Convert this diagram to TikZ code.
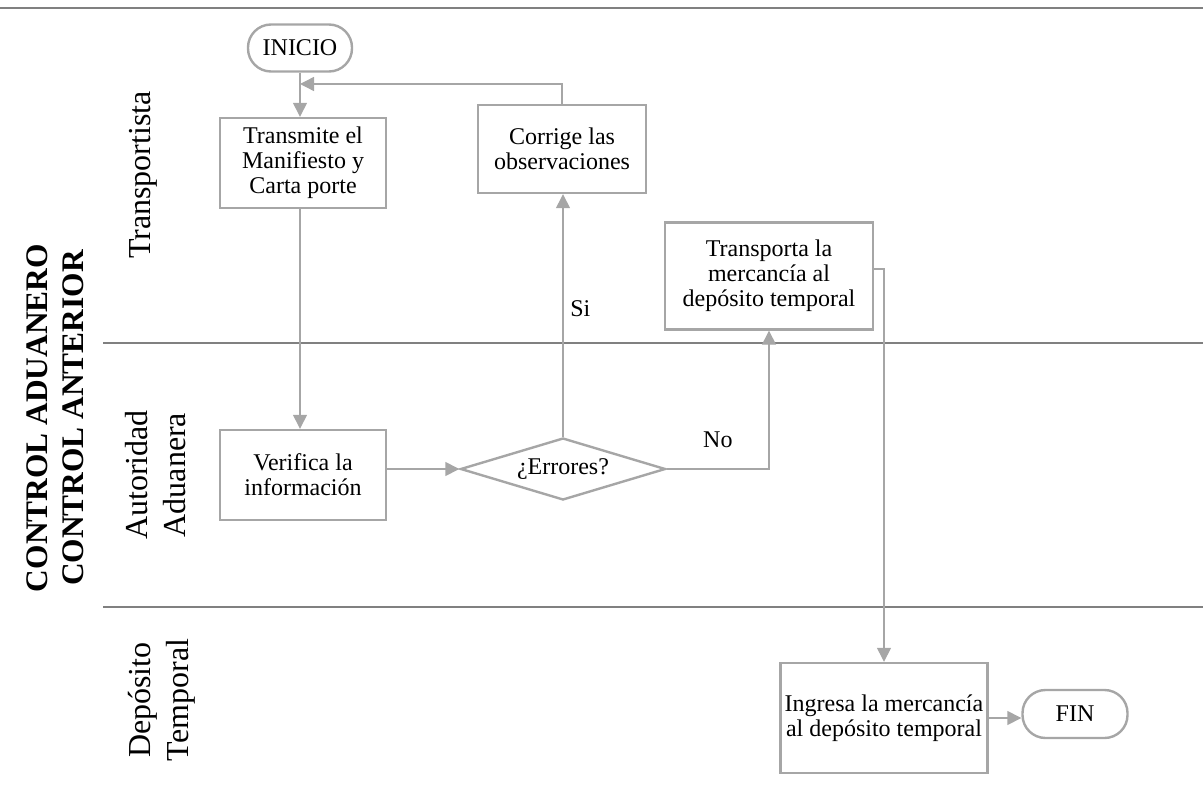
\documentclass[tikz,border=0pt]{standalone}
\usepackage{fontspec}
\setmainfont{Liberation Serif}
\usetikzlibrary{shapes.geometric,arrows.meta}
\definecolor{boxgray}{HTML}{A6A6A6}
\definecolor{lanegray}{HTML}{808080}
\tikzset{
    proc/.style={draw=boxgray, line width=1.2pt, fill=white, align=center, inner sep=0.5pt, font=\fontsize{12}{12.5}\selectfont},
    term/.style={proc, rounded corners=11.5pt},
    decision/.style={proc, diamond, aspect=3.3},
    arr/.style={draw=boxgray, line width=0.7pt, -{Triangle[length=7pt,width=7pt]}},
    lbl/.style={font=\fontsize{12}{12.5}\selectfont},
    lane/.style={draw=lanegray, line width=1pt},
    lanename/.style={rotate=90, align=center, font=\fontsize{16}{19}\selectfont}
}

\begin{document}
\begin{tikzpicture}[x=0.5pt,y=-0.5pt]
    \useasboundingbox (0,0) rectangle (1203,786);
    \draw[lane] (0,8) -- (1203,8);
    \foreach \y in {343,607}
        \draw[lane] (103,\y) -- (1203,\y);

    \node[rotate=90, align=center, font=\fontsize{15.7}{18}\selectfont\bfseries] (titulo) at (55,418) {CONTROL ADUANERO\\CONTROL ANTERIOR};
    \node[lanename] (transportista) at (143,175) {Transportista};
    \node[lanename] (autoridad) at (156,475) {Autoridad\\Aduanera};
    \node[lanename] (deposito) at (162,700) {Depósito\\Temporal};

    \node[term, minimum width=52pt, minimum height=23.5pt] (inicio) at (300,48) {INICIO};
    \node[proc, minimum width=83pt, minimum height=45pt] (transmite) at (303,163) {Transmite el\\Manifiesto y\\Carta porte};
    \node[proc, minimum width=84pt, minimum height=44pt] (corrige) at (562,149) {Corrige las\\observaciones};
    \node[proc, minimum width=104pt, minimum height=53.5pt] (transporta) at (769,276) {Transporta la\\mercancía al\\depósito temporal};
    \node[proc, minimum width=83pt, minimum height=45pt] (verifica) at (303,475) {Verifica la\\información};
    \node[decision, minimum width=102.5pt, minimum height=31pt] (errores) at (563,469) {¿Errores?};
    \node[proc, minimum width=103.5pt, minimum height=55pt] (ingresa) at (884,718) {Ingresa la mercancía\\al depósito temporal};
    \node[term, minimum width=52.5pt, minimum height=24pt] (fin) at (1075,714) {FIN};
    \coordinate (retorno) at (300,84);

    \draw[arr] (inicio.south) -- (inicio.south |- transmite.north);
    \draw[arr] (corrige.north) |- (retorno);
    \draw[arr] (inicio.south |- transmite.south) -- (inicio.south |- verifica.north);
    \draw[arr] (verifica.east |- errores.west) -- (errores.west);
    \draw[arr] (errores.north) -- node[lbl, right, pos=0.53] {Si} (errores.north |- corrige.south);
    \draw[arr] (errores.east) -| node[lbl, above=7pt, pos=0.25] {No} (transporta.south);
    \draw[arr] ([yshift=3.5pt]transporta.east) -| (ingresa.north);
    \draw[arr] (ingresa.east) -- (ingresa.east -| fin.west);
\end{tikzpicture}
\end{document}
